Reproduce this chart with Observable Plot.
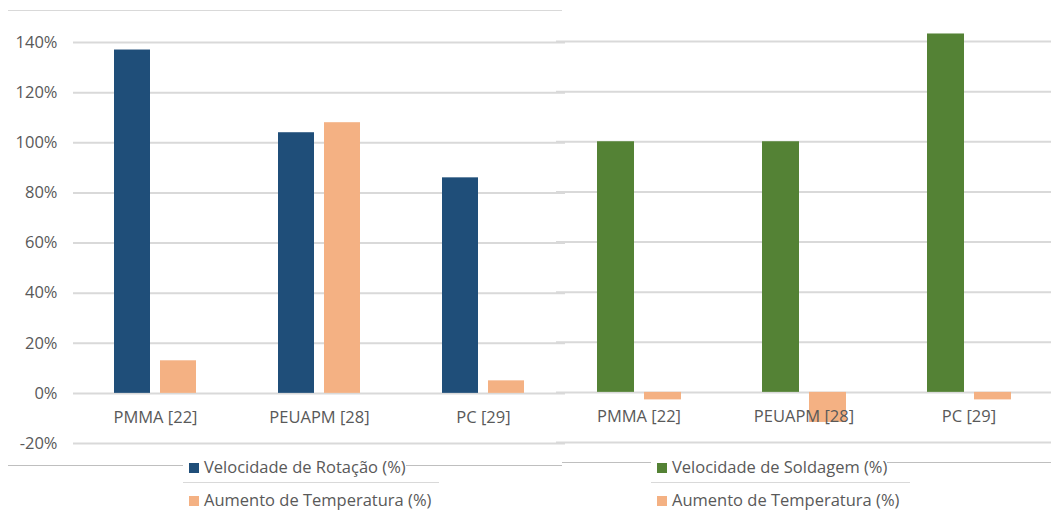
<!DOCTYPE html>
<html>
<head>
<meta charset="utf-8">
<script src="https://cdn.jsdelivr.net/npm/d3@7"></script>
<script src="https://cdn.jsdelivr.net/npm/@observablehq/plot@0.6"></script>
<style>
  html, body { margin: 0; padding: 0; background: #fff; }
  #wrap { position: relative; width: 1051px; height: 510px; overflow: hidden; font-family: "Open Sans", sans-serif; color: #595959; }
  .chart { position: absolute; }
  .chart svg { background: transparent !important; }
  .panel { position: absolute; box-sizing: border-box; pointer-events: none; }
  .row { position: absolute; font-size: 16.5px; white-space: nowrap; box-sizing: border-box; }
  .item { display: inline-block; background: #fff; position: relative; }
  .sw { display: inline-block; width: 10px; height: 10px; vertical-align: middle; position: relative; top: -1px; }
</style>
</head>
<body>
<div id="wrap">
  <div id="right" class="chart" style="left:555px; top:-1px;"></div>
  <div id="left" class="chart" style="left:0px; top:0px;"></div>
  <div class="panel" style="left:8px; top:10px; width:554px; height:456px; border-top:1px solid #d9d9d9; border-bottom:1px solid #bfbfbf;"></div>
  <div class="panel" style="left:562px; top:0px; width:489px; height:463px; border-bottom:1px solid #bfbfbf;"></div>
  <div id="legL"></div>
  <div id="legR"></div>
</div>
<script>
const categories = ["PMMA [22]", "PEUAPM [28]", "PC [29]"];
const velRotacao = [137, 104, 86];
const tempRotacao = [13, 108, 5];
const velSoldagem = [100, 100, 143];
const tempSoldagem = [-3, -12, -3];
const yTicks = [-20, 0, 20, 40, 60, 80, 100, 120, 140];

const seriesLeft = ["Velocidade de Rotação (%)", "Aumento de Temperatura (%)"];
const seriesRight = ["Velocidade de Soldagem (%)", "Aumento de Temperatura (%)"];
const colorsLeft = ["#1F4E79", "#F4B183"];
const colorsRight = ["#548235", "#F4B183"];

function table(a, b, names) {
  const rows = [];
  categories.forEach((c, i) => {
    rows.push({cat: c, s: names[0], v: a[i]});
    rows.push({cat: c, s: names[1], v: b[i]});
  });
  return rows;
}

const FONT = "'Open Sans', sans-serif";

function chart(rows, names, colors, opts) {
  return Plot.plot({
    width: opts.width,
    height: 465,
    marginLeft: opts.marginLeft,
    marginRight: 0,
    marginTop: 42,
    marginBottom: 22,
    style: {fontFamily: FONT, fontSize: "16.5px", color: "#595959", background: "transparent", overflow: "visible"},
    fx: {domain: categories, padding: 0, axis: null},
    x: {domain: names, paddingInner: 10 / 47, paddingOuter: 0.857, axis: null},
    y: {domain: [-20, 140], axis: null},
    color: {domain: names, range: colors},
    marks: [
      Plot.gridY(yTicks, {stroke: "#d9d9d9", strokeOpacity: 1, strokeWidth: 2}),
      Plot.barY(rows, {fx: "cat", x: "s", y: "v", fill: "s"}),
      opts.yAxis ? Plot.axisY(yTicks, {label: null, tickSize: 0, tickPadding: 16, tickFormat: d => d + "%", fill: "#595959", fontSize: 16.5}) : null,
      Plot.text(categories, {fx: d => d, text: d => d, y: () => 0, dy: 24, fill: "#595959", fontSize: 16.5})
    ]
  });
}

document.getElementById("left").append(chart(table(velRotacao, tempRotacao, seriesLeft), seriesLeft, colorsLeft, {width: 566, marginLeft: 72, yAxis: true}));
document.getElementById("right").append(chart(table(velSoldagem, tempSoldagem, seriesRight), seriesRight, colorsRight, {width: 496, marginLeft: 0, yAxis: false}));

function legend(id, names, colors, left, swLeft, textLeft, rowWidth) {
  const el = document.getElementById(id);
  names.forEach((n, i) => {
    const row = document.createElement("div");
    row.className = "row";
    row.style.left = left + "px";
    row.style.top = (i === 0 ? 454 : 487) + "px";
    row.style.height = (i === 0 ? 29 : 26) + "px";
    row.style.lineHeight = "26px";
    if (i === 0) { row.style.width = rowWidth + "px"; row.style.borderBottom = "1px solid #d9d9d9"; }
    const item = document.createElement("span");
    item.className = "item";
    item.style.paddingLeft = (swLeft - left) + "px";
    const sw = document.createElement("span");
    sw.className = "sw";
    sw.style.background = colors[i];
    sw.style.marginRight = (textLeft - swLeft - 10) + "px";
    item.append(sw, document.createTextNode(n));
    row.append(item);
    el.append(row);
  });
}
legend("legL", seriesLeft, colorsLeft, 183, 189, 204, 256);
legend("legR", seriesRight, colorsRight, 651, 657, 672, 259);
</script>
</body>
</html>
